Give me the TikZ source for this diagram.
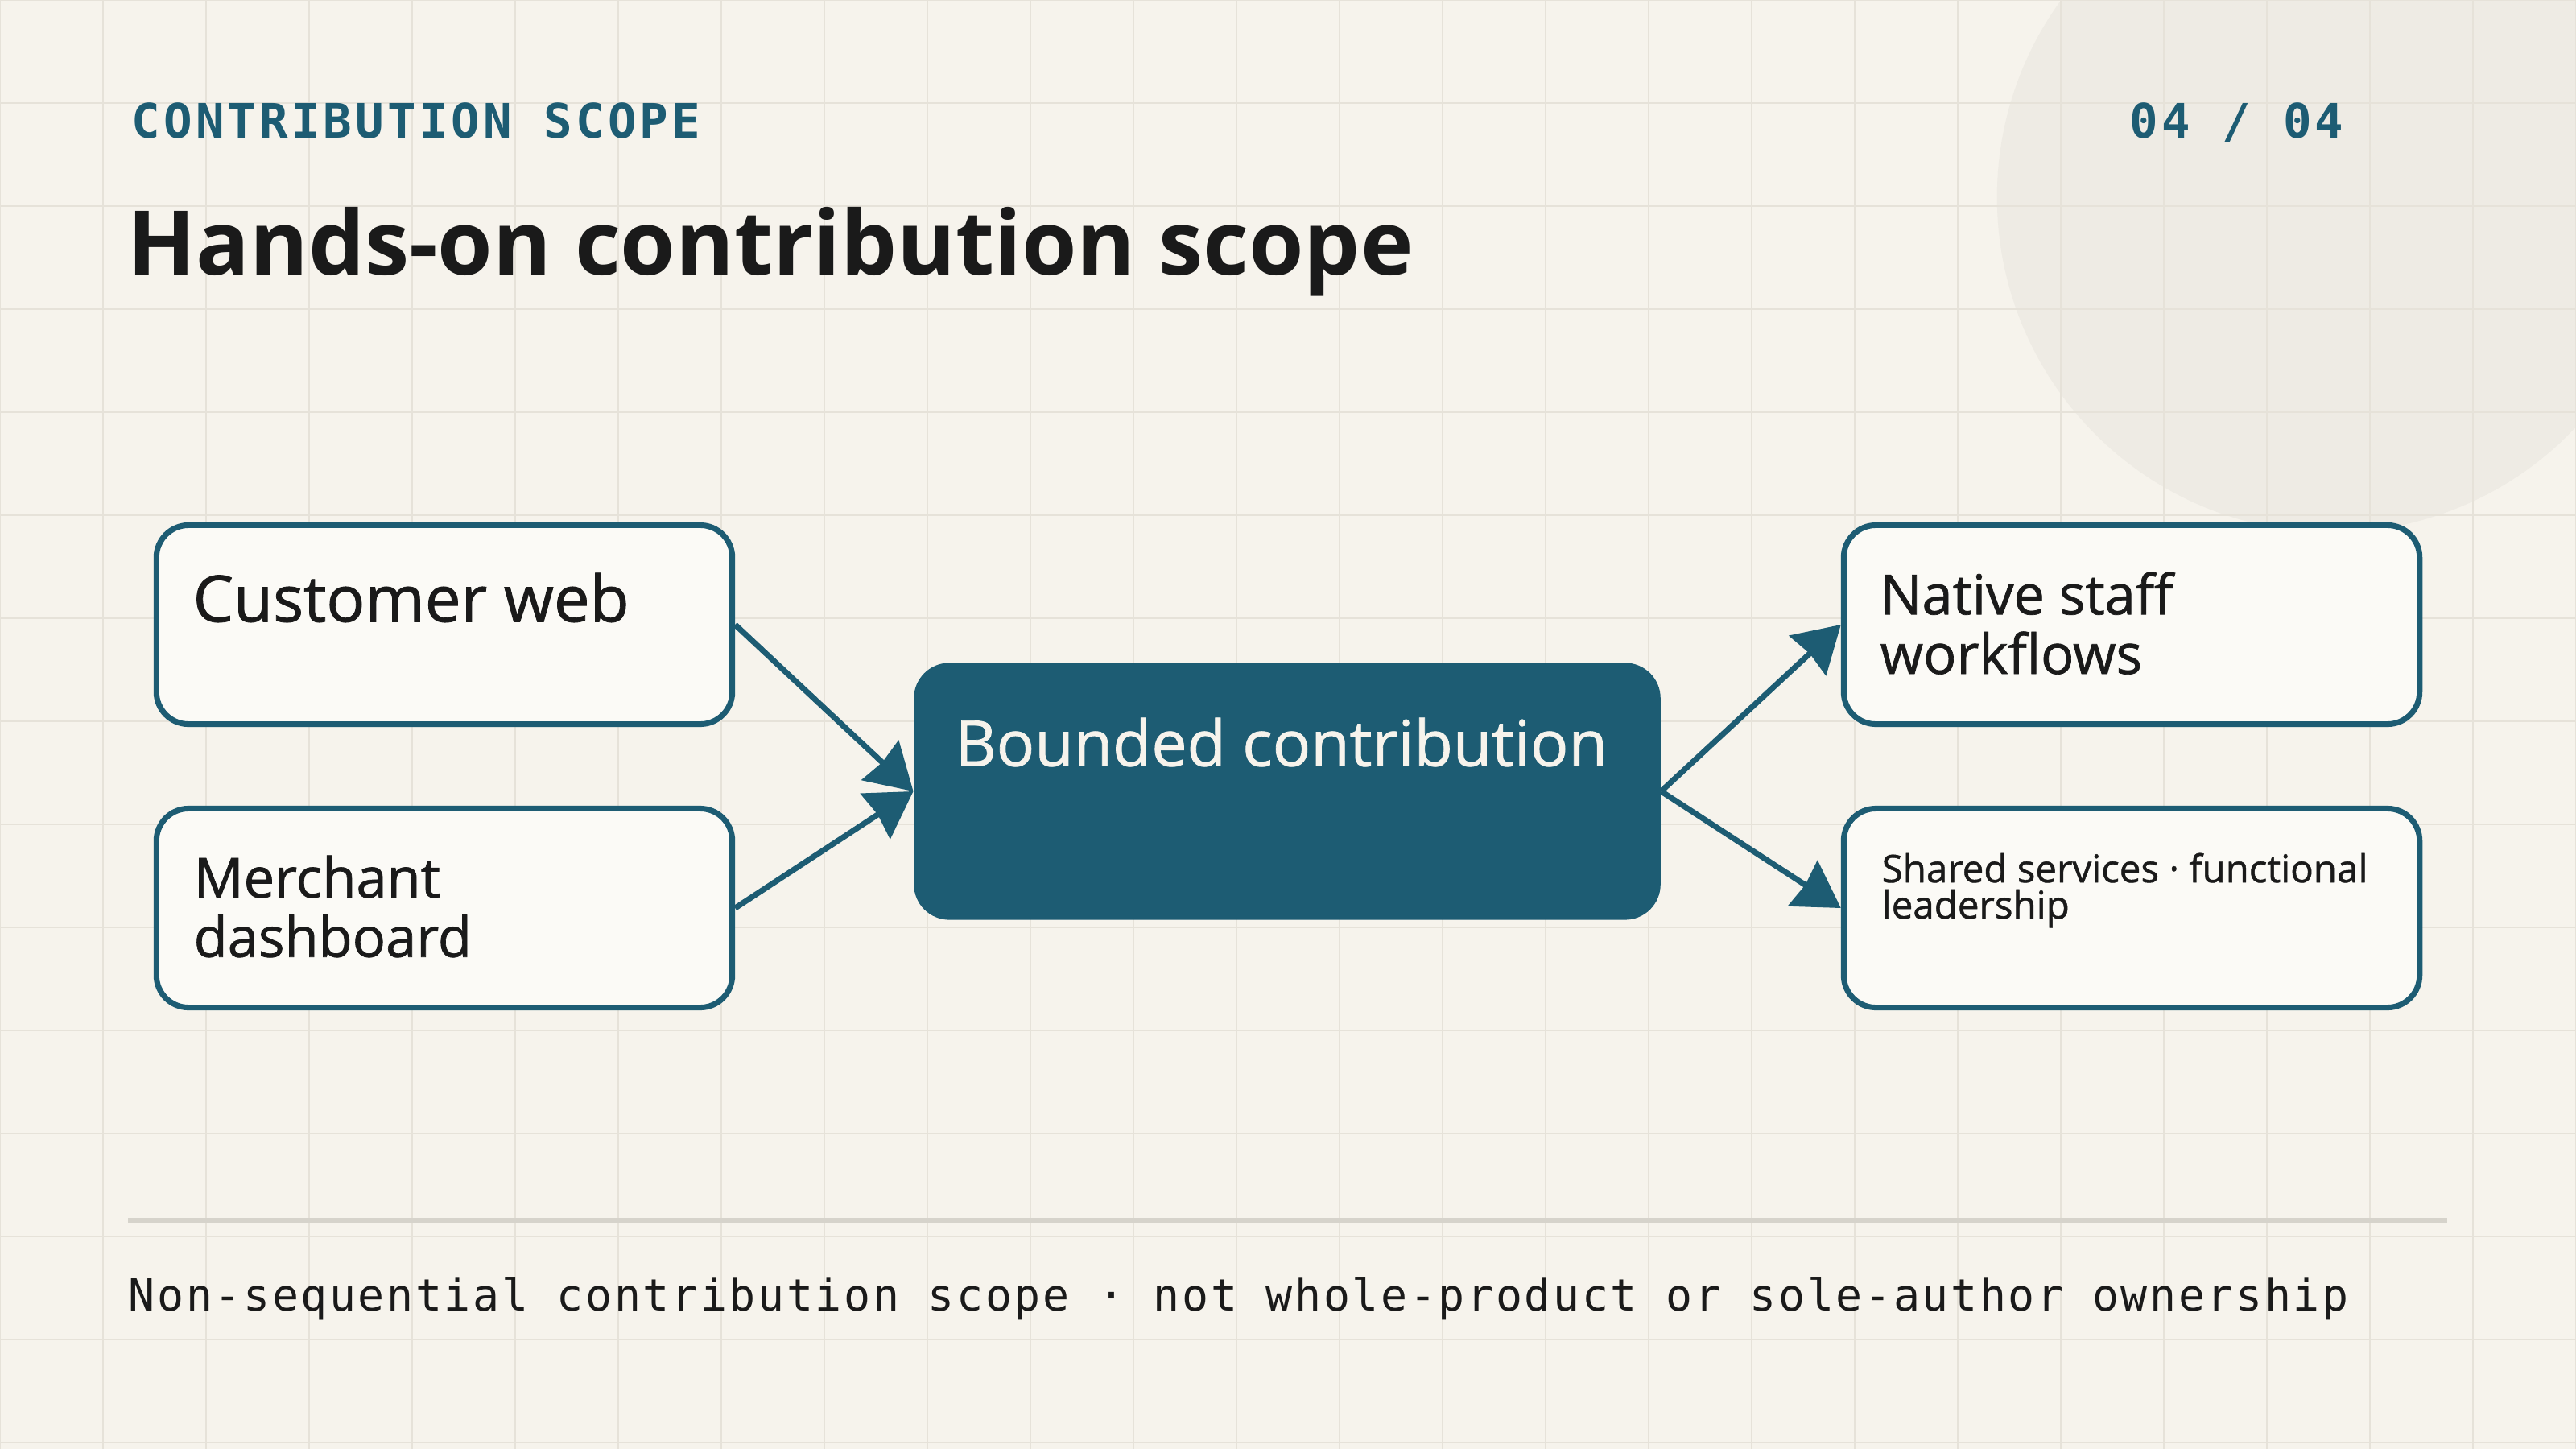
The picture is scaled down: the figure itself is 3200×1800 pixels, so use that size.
\documentclass[tikz,border=0pt]{standalone}
\usepackage{fontspec}
\setmainfont{Open Sans}
\setmonofont{DejaVu Sans Mono}
\newfontfamily\kickerfont{DejaVu Sans Mono}[LetterSpace=7]
\newfontfamily\footerfont{DejaVu Sans Mono}[LetterSpace=4.8]
\newfontfamily\boxfont{Open Sans}[FakeBold=1]
\usetikzlibrary{arrows.meta}

\definecolor{paper}{HTML}{F6F3EC}
\definecolor{disc}{HTML}{EEEBE4}
\definecolor{gridcol}{HTML}{E6E2D9}
\definecolor{petrol}{HTML}{1D5C73}
\definecolor{ink}{HTML}{1A1A1A}
\definecolor{cardfill}{HTML}{FBFAF6}
\definecolor{rulecol}{HTML}{D6D3CB}

\begin{document}
\begin{tikzpicture}[x=0.01cm, y=-0.01cm, >={Stealth[length=16pt, width=19pt, inset=1pt]},
    scopebox/.style={draw=petrol, line width=2pt, fill=cardfill, rounded corners=0.4cm, minimum width=7.15cm, minimum height=2.47cm, inner sep=0},
    corebox/.style={fill=petrol, rounded corners=0.44cm, minimum width=9.27cm, minimum height=3.19cm, inner sep=0},
    boxtext/.style={anchor=north west, inner sep=0, align=left, text=ink, font=\boxfont\fontsize{22.7}{21}\selectfont},
    pairtext/.style={boxtext, font=\boxfont\fontsize{19.5}{21}\selectfont},
    smalltext/.style={boxtext, font=\boxfont\fontsize{13.5}{12.8}\selectfont},
    flow/.style={->, color=petrol, line width=2pt},
    gridline/.style={draw=gridcol, line width=0.6pt}]
    % Background {paper, disc, grid}
    \useasboundingbox (0,0) rectangle (3200,1800);
    \fill [paper] (0,0) rectangle (3200,1800);
    \fill [disc] (2897,245) circle [radius=4.16cm];
    \foreach \gx in {0,128,...,3200} \draw [gridline] (\gx,0) -- (\gx,1800);
    \foreach \gy in {0,128,...,1792} \draw [gridline] (0,\gy) -- (3200,\gy);

    % Header
    \node [anchor=base west, inner sep=0, text=petrol, font=\kickerfont\bfseries\fontsize{16.8}{20}\selectfont] (kicker) at (163,172) {CONTRIBUTION SCOPE};
    \node [anchor=base east, inner sep=0, text=petrol, font=\kickerfont\bfseries\fontsize{16.8}{20}\selectfont] (pager) at (2912,172) {04 / 04};
    \node [anchor=base west, inner sep=0, text=ink, font=\bfseries\fontsize{31.5}{36}\selectfont] (title) at (158,341) {Hands-on contribution scope};

    % Nodes {cweb, merch, core, native, shared}
    \node [scopebox] (cweb)   at (552,776)   {};
    \node [scopebox] (merch)  at (552,1128)  {};
    \node [corebox]  (core)   at (1599,983)  {};
    \node [scopebox] (native) at (2648,776)  {};
    \node [scopebox] (shared) at (2648,1128) {};

    \node [boxtext]   (cwebtext)   at (239,711)   {Customer web};
    \node [pairtext]  (merchtext)  at (240,1062)  {Merchant\\dashboard};
    \node [boxtext, text=paper, font=\boxfont\fontsize{22.4}{21}\selectfont] (coretext) at (1186,891) {Bounded contribution};
    \node [pairtext]  (nativetext) at (2335,710)  {Native staff\\workflows};
    \node [smalltext] (sharedtext) at (2337,1059) {Shared services · functional\\leadership};

    % Paths
    \path (cweb.east)  edge [flow] (core.west);
    \path (merch.east) edge [flow] (core.west);
    \path (core.east)  edge [flow] (native.west);
    \path (core.east)  edge [flow] (shared.west);

    % Footer
    \draw [rulecol, line width=1.5pt] (159,1516) -- (3040,1516);
    \node [anchor=base west, inner sep=0, text=ink, font=\footerfont\fontsize{15.6}{18}\selectfont] (footer) at (159,1628) {Non-sequential contribution scope · not whole-product or sole-author ownership};
\end{tikzpicture}
\end{document}
